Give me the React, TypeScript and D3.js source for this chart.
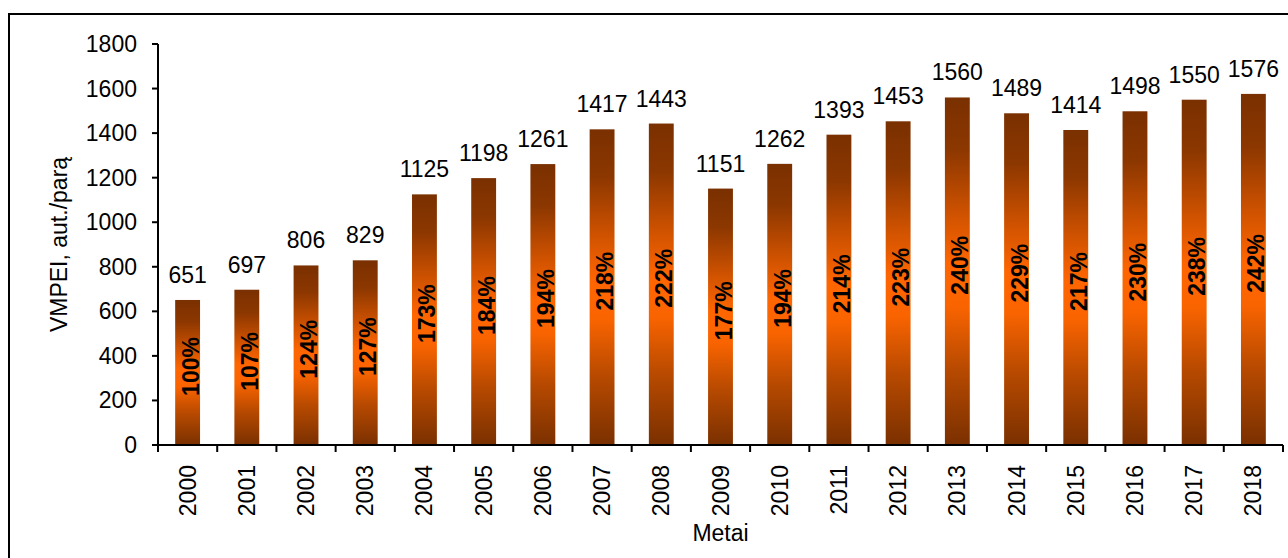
import React from 'react'
import * as d3 from 'd3'

const years = ['2000', '2001', '2002', '2003', '2004', '2005', '2006', '2007', '2008', '2009',
  '2010', '2011', '2012', '2013', '2014', '2015', '2016', '2017', '2018']
const values = [651, 697, 806, 829, 1125, 1198, 1261, 1417, 1443, 1151, 1262, 1393, 1453, 1560, 1489, 1414, 1498, 1550, 1576]
const percents = [100, 107, 124, 127, 173, 184, 194, 218, 222, 177, 194, 214, 223, 240, 229, 217, 230, 238, 242]
const yTicks = [0, 200, 400, 600, 800, 1000, 1200, 1400, 1600, 1800]

const W = 1288
const H = 558
const LEFT = 158
const RIGHT = 1283
const TOP = 44
const BOTTOM = 445
const FONT = 'Arial, "Liberation Sans", sans-serif'
const FS = 23

const App = () => {
  const x = d3.scaleBand<string>().domain(years).range([LEFT, RIGHT]).padding(0)
  const y = d3.scaleLinear().domain([0, 1800]).range([BOTTOM, TOP])
  const barW = x.bandwidth() * 0.42
  const bounds = years.map(d => x(d) as number).concat([RIGHT])

  return (
    <svg width={W} height={H} style={{ position: 'absolute', left: 0, top: 0 }} fontFamily={FONT}>
      <defs>
        <linearGradient id="barGrad" x1="0" y1="0" x2="0" y2="1">
          <stop offset="0" stopColor="#7a3000" />
          <stop offset="0.15" stopColor="#8c3700" />
          <stop offset="0.35" stopColor="#d45400" />
          <stop offset="0.48" stopColor="#ff6600" />
          <stop offset="0.6" stopColor="#fa6400" />
          <stop offset="0.78" stopColor="#b84a00" />
          <stop offset="1" stopColor="#7a3000" />
        </linearGradient>
      </defs>
      <rect x={9} y={14} width={W + 20} height={H + 20} fill="#fff" stroke="#000" strokeWidth={2} />

      {years.map((d, i) => {
        const cx = (x(d) as number) + x.bandwidth() / 2
        const top = y(values[i])
        const mid = (top + BOTTOM) / 2 - 6
        return (
          <g key={d}>
            <rect x={cx - barW / 2} y={top} width={barW} height={BOTTOM - top} fill="url(#barGrad)" />
            <text x={cx} y={top - 17} textAnchor="middle" fontSize={FS} fill="#000">{values[i]}</text>
            <text transform={`translate(${cx + 11},${mid}) rotate(-90)`} textAnchor="middle"
              fontSize={FS} fontWeight="bold" fill="#000">{percents[i] + '%'}</text>
            <text transform={`translate(${cx + 8},${465}) rotate(-90)`} textAnchor="end"
              fontSize={FS} fill="#000">{d}</text>
          </g>
        )
      })}

      {/* y axis */}
      <line x1={LEFT} x2={LEFT} y1={TOP} y2={BOTTOM} stroke="#000" strokeWidth={2} />
      {yTicks.map(t => (
        <g key={t}>
          <line x1={LEFT - 6} x2={LEFT} y1={y(t)} y2={y(t)} stroke="#000" strokeWidth={2} />
          <text x={137} y={y(t)} dy="0.35em" textAnchor="end" fontSize={FS} fill="#000">{t}</text>
        </g>
      ))}

      {/* x axis */}
      <line x1={LEFT - 6} x2={RIGHT} y1={BOTTOM} y2={BOTTOM} stroke="#000" strokeWidth={2} />
      {bounds.map((b, i) => (
        <line key={i} x1={b} x2={b} y1={BOTTOM} y2={BOTTOM + 7} stroke="#000" strokeWidth={2} />
      ))}

      <text x={(LEFT + RIGHT) / 2} y={541} textAnchor="middle" fontSize={FS} fill="#000">Metai</text>
      <text transform={`translate(67,${(TOP + BOTTOM) / 2}) rotate(-90)`} textAnchor="middle"
        fontSize={FS} fill="#000">VMPEI, aut./parą</text>
    </svg>
  )
}

export default App
